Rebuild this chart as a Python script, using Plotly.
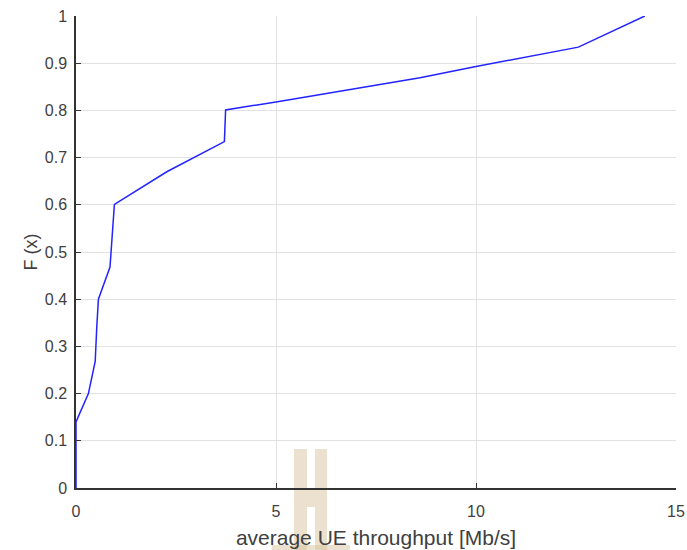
import plotly.graph_objects as go

# Empirical CDF of the average UE throughput
throughput_mbps = [0.0, 0.0, 0.31, 0.48, 0.52, 0.56, 0.85, 0.96, 2.27, 3.71, 3.74,
                   5.0, 8.6, 10.0, 12.56, 14.22]
cdf_values = [0.0, 0.14, 0.20, 0.268, 0.342, 0.40, 0.468, 0.601, 0.670, 0.734, 0.801,
              0.818, 0.869, 0.893, 0.934, 1.0]

x_ticks = [0, 5, 10, 15]
y_ticks = [0, 0.1, 0.2, 0.3, 0.4, 0.5, 0.6, 0.7, 0.8, 0.9, 1]
y_tick_text = ["0", "0.1", "0.2", "0.3", "0.4", "0.5", "0.6", "0.7", "0.8", "0.9", "1"]

W, H = 687, 550
L, R, T, B = 76, 11, 16, 62
pw, ph = W - L - R, H - T - B


def px_x(px):
    return (px - L) / pw


def px_y(py):
    return (H - B - py) / ph


fig = go.Figure()
fig.add_trace(go.Scatter(
    x=throughput_mbps, y=cdf_values, mode="lines",
    line=dict(color="rgb(35,35,255)", width=1.5),
    showlegend=False, hoverinfo="x+y",
))

# light tan mark near the x-axis title
tan = "rgba(215,196,158,0.5)"
for x0, x1, y0, y1 in [(294, 307, 449, 550), (315, 327, 449, 550),
                       (307, 315, 488, 507), (272, 350, 545, 550)]:
    fig.add_shape(type="rect", xref="paper", yref="paper",
                  x0=px_x(x0), x1=px_x(x1), y0=px_y(y1), y1=px_y(y0),
                  fillcolor=tan, line=dict(width=0), layer="below")

font_family = "Liberation Sans, Arial, sans-serif"
axis_font = dict(family=font_family, size=16, color="#404040")

fig.update_layout(
    width=W, height=H,
    margin=dict(l=L, r=R, t=T, b=B, pad=0, autoexpand=False),
    paper_bgcolor="white", plot_bgcolor="rgba(0,0,0,0)",
    font=axis_font,
    xaxis=dict(
        range=[0, 15], tickvals=x_ticks, ticktext=[str(v) for v in x_ticks],
        automargin=False,
        showgrid=True, gridcolor="rgb(226,226,226)", gridwidth=1,
        zeroline=False, showline=True, linecolor="#333333", linewidth=1.5,
        ticks="inside", ticklen=5, tickwidth=1.2, tickcolor="#333333",
        tickfont=axis_font, ticklabelstandoff=8,
        title=dict(text="average UE throughput [Mb/s]",
                   font=dict(family=font_family, size=21, color="#404040"),
                   standoff=11),
    ),
    yaxis=dict(
        range=[0, 1], tickvals=y_ticks, ticktext=y_tick_text,
        automargin=False,
        showgrid=True, gridcolor="rgb(226,226,226)", gridwidth=1,
        zeroline=False, showline=True, linecolor="#333333", linewidth=1.5,
        ticks="inside", ticklen=5, tickwidth=1.2, tickcolor="#333333",
        tickfont=axis_font, ticklabelstandoff=4,
        title=dict(text="F (x)",
                   font=dict(family=font_family, size=18, color="#404040"),
                   standoff=2),
    ),
)

fig.write_html("out.html")
